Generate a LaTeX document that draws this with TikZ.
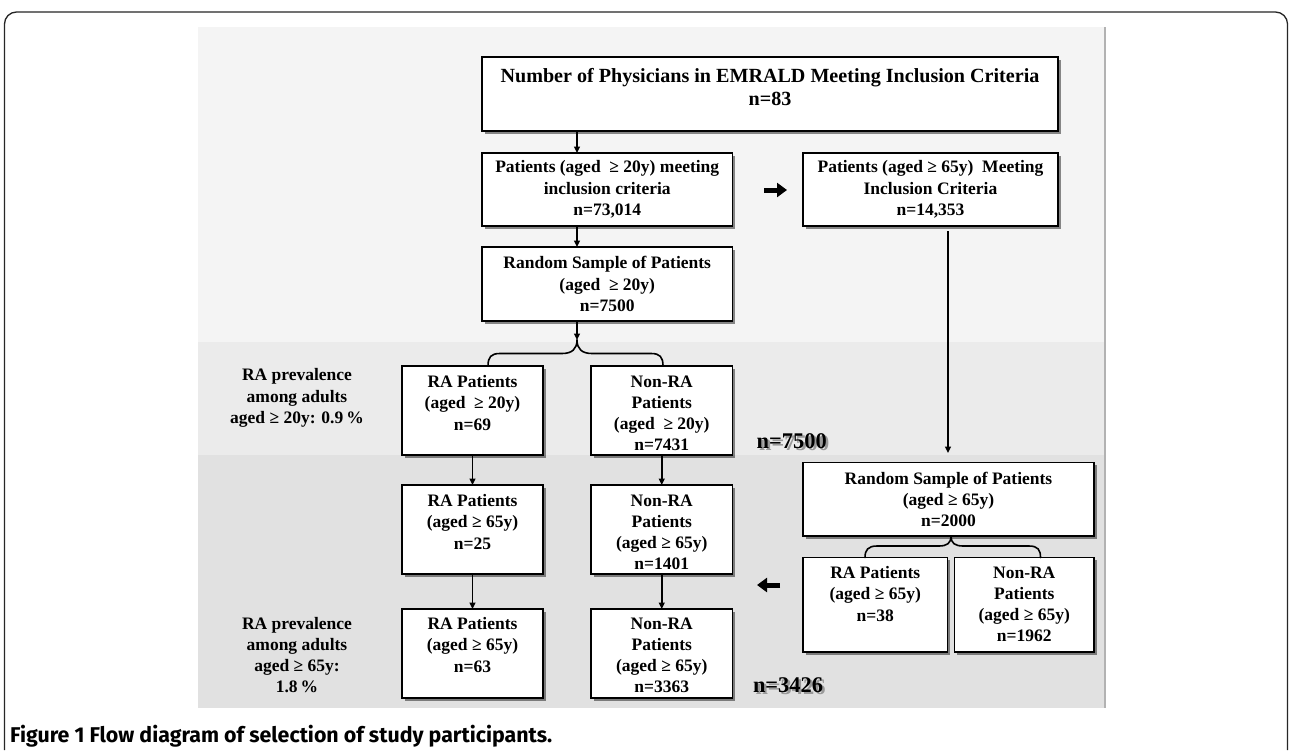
\documentclass[tikz,border=0pt]{standalone}
\usepackage{graphicx}
\usepackage{fontspec}
\setmainfont{Liberation Serif}
\newfontfamily\capfont{Fira Sans}
\usetikzlibrary{arrows.meta,shadows}
\definecolor{bandA}{HTML}{F4F4F4}
\definecolor{bandB}{HTML}{EBEBEB}
\definecolor{bandC}{HTML}{E1E1E1}
\newcommand\boxfont{\fontsize{17.5}{21.3}\selectfont\bfseries}
\newcommand\topfont{\fontsize{20.1}{23}\selectfont\bfseries}
\newcommand\bignfont{\fontsize{22.4}{26}\selectfont\bfseries}
\newcommand\cbox[3]{\parbox[c][#2pt][c]{#1pt}{\centering #3\par}}
\newcommand\tbox[4]{\parbox[c][#2pt][t]{#1pt}{\vspace*{#3pt}\centering #4\par}}
\begin{document}
\begin{tikzpicture}[x=1pt,y=-1pt,
  bx/.style={draw=black, line width=1.3pt, fill=white, inner sep=0pt, outer sep=0pt,
    anchor=north west, font=\boxfont,
    drop shadow={shadow xshift=2.5pt, shadow yshift=-2.5pt, opacity=0.45, fill=black}},
  arr/.style={line width=1.5pt, -{Triangle[length=6.5pt,width=6pt]}},
  fat/.style={line width=5pt, -{Triangle[length=10pt,width=14pt]}},
  curly/.style={line width=1.6pt, line join=round, line cap=round},
  side/.style={font=\boxfont, align=center, inner sep=0pt},
  bign/.style={font=\bignfont, inner sep=0pt}]
\fill[white] (0,0) rectangle (1292,750);
\useasboundingbox (0,0) rectangle (1292,750);
% outer frame
\draw[line width=1.3pt, black!85, rounded corners=12pt] (4.5,750) -- (4.5,12) -- (1287.5,12) -- (1287.5,750);
% panel bands
\fill[bandA] (198,27) rectangle (1104,342);
\fill[bandB] (198,342) rectangle (1104,455);
\fill[bandC] (198,455) rectangle (1104,708);
\draw[black!30, line width=2pt] (1104.5,27) -- (1104.5,708);

% boxes
\node[bx, font=\topfont] (top) at (482,57) {\tbox{576}{74}{11.5}{Number of Physicians in EMRALD Meeting Inclusion Criteria\\n=83}};
\node[bx] (pm20) at (482,153) {\cbox{250.5}{73}{Patients (aged\ \ ≥ 20y) meeting\\inclusion criteria\\n=73,014}};
\node[bx] (pm65) at (803,153) {\cbox{255}{73}{Patients (aged ≥ 65y)\ \ Meeting\\Inclusion Criteria\\n=14,353}};
\node[bx] (rs20) at (482,247) {\cbox{250.5}{74}{Random Sample of Patients\\(aged\ \ ≥ 20y)\\n=7500}};
\node[bx] (ra69) at (402,366) {\tbox{141}{89}{9.5}{RA Patients\\(aged\ \ ≥ 20y)\\n=69}};
\node[bx] (nr7431) at (591,366) {\tbox{141.5}{89}{9.5}{Non-RA\\Patients\\(aged\ \ ≥ 20y)\\n=7431}};
\node[bx] (ra25) at (402,485) {\tbox{141}{89}{9.5}{RA Patients\\(aged ≥ 65y)\\n=25}};
\node[bx] (nr1401) at (591,485) {\tbox{141.5}{89}{9.5}{Non-RA\\Patients\\(aged ≥ 65y)\\n=1401}};
\node[bx] (ra63) at (402,609) {\tbox{141}{89}{8.5}{RA Patients\\(aged ≥ 65y)\\n=63}};
\node[bx] (nr3363) at (591,609) {\tbox{141.5}{89}{8.5}{Non-RA\\Patients\\(aged ≥ 65y)\\n=3363}};
\node[bx] (rs65) at (803,462.5) {\cbox{291}{73.5}{Random Sample of Patients\\(aged ≥ 65y)\\n=2000}};
\node[bx] (ra38) at (803,557.5) {\tbox{144.5}{94.5}{9}{RA Patients\\(aged ≥ 65y)\\n=38}};
\node[bx] (nr1962) at (954.5,557.5) {\tbox{139.5}{94.5}{9}{Non-RA\\Patients\\(aged ≥ 65y)\\n=1962}};

% side texts
\node[side] (prev20) at (297,398) {RA prevalence\\among adults\\aged ≥ 20y: 0.9\,\%};
\node[side] (prev65) at (297,655) {RA prevalence\\among adults\\aged ≥ 65y:\\1.8\,\%};

% big totals with shadow
\node[bign, text=black!40] (n7500s) at (794.2,443.5) {n=7500};
\node[bign] (n7500) at (791.7,441) {n=7500};
\node[bign, text=black!40] (n3426s) at (790.5,687.5) {n=3426};
\node[bign] (n3426) at (788,685) {n=3426};

% helper coordinates
\coordinate (colA) at (577,0);
\coordinate (cuspA) at (577,340);
\coordinate (bAl) at (488,366);
\coordinate (bAr) at (663,366);
\coordinate (cuspB) at (951,536.5);
\coordinate (bBl) at (865,557.5);
\coordinate (bBr) at (1040.5,557.5);
\coordinate (v1) at (948,231);
\coordinate (v2) at (948,453);
\coordinate (f1a) at (764,190);
\coordinate (f1b) at (787,190);
\coordinate (f2a) at (780,585);
\coordinate (f2b) at (757,585);

% connectors
\draw[arr] (top.south -| colA) -- (pm20.north -| colA);
\draw[arr] (pm20.south -| colA) -- (rs20.north -| colA);
\draw[arr] (rs20.south -| colA) -- (cuspA);
\draw[curly] (cuspA) .. controls (577,349) and (572,353.5) .. (562,353.5) -- (500,353.5) .. controls (491,353.5) and (488,357) .. (bAl);
\draw[curly] (cuspA) .. controls (577,349) and (582,353.5) .. (592,353.5) -- (651,353.5) .. controls (660,353.5) and (663,357) .. (bAr);
\draw[arr] (ra69.south) -- (ra25.north);
\draw[arr] (nr7431.south) -- (nr1401.north);
\draw[arr] (ra25.south) -- (ra63.north);
\draw[arr] (nr1401.south) -- (nr3363.north);
\draw[arr] (v1) -- (v2);
\draw[curly] (cuspB) .. controls (951,543) and (947,546) .. (939,546) -- (877,546) .. controls (868,546) and (865,550) .. (bBl);
\draw[curly] (cuspB) .. controls (951,543) and (955,546) .. (963,546) -- (1029,546) .. controls (1038,546) and (1040.5,550) .. (bBr);
\draw[fat] (f1a) -- (f1b);
\draw[fat] (f2a) -- (f2b);

% caption
\node[anchor=west, inner sep=0pt] (cap) at (10,736) {\resizebox{542pt}{!}{\capfont\bfseries Figure 1 Flow diagram of selection of study participants.}};
\end{tikzpicture}
\end{document}
